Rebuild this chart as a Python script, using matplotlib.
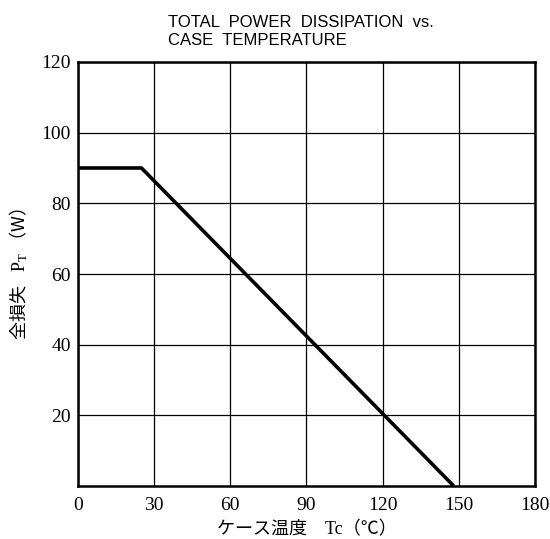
import matplotlib.pyplot as plt

# 全損失 - ケース温度 特性
tc = [0, 25, 148]        # ケース温度 Tc (℃)
pt = [90, 90, 0]         # 全損失 PT (W)
xticks = [0, 30, 60, 90, 120, 150, 180]
yticks = [20, 40, 60, 80, 100, 120]

serif_jp = ['Liberation Serif', 'Noto Sans CJK JP', 'DejaVu Sans']
plt.rcParams['mathtext.fontset'] = 'custom'
plt.rcParams['mathtext.rm'] = 'Noto Sans CJK JP'
plt.rcParams['mathtext.it'] = 'Liberation Serif'

fig = plt.figure(figsize=(5.5, 5.39), dpi=100)
ax = fig.add_axes([0.1418, 0.0983, 0.8309, 0.7867])

ax.plot(tc, pt, color='black', lw=2.6, solid_capstyle='butt')
ax.set_xlim(0, 180)
ax.set_ylim(0, 120)
ax.set_xticks(xticks)
ax.set_yticks(yticks)
ax.grid(True, color='black', lw=0.9)
ax.tick_params(length=0, labelsize=14)
ax.tick_params(axis='y', pad=5)
ax.tick_params(axis='x', pad=8)
for lab in ax.get_xticklabels() + ax.get_yticklabels():
    lab.set_family('Liberation Serif')
for s in ax.spines.values():
    s.set_linewidth(1.8)

fig.text(0.305, 0.942, 'TOTAL  POWER  DISSIPATION  vs.\nCASE  TEMPERATURE',
         ha='left', va='center', fontsize=12, family='Liberation Sans',
         linespacing=1.25)

ax.set_xlabel('ケース温度　Tc（℃）', fontsize=13, family=serif_jp, labelpad=5)
ax.set_ylabel(r'$\mathrm{全損失}\quad \mathit{P}_{\mathit{T}}\;\mathrm{（W）}$',
              fontsize=13, labelpad=8)

fig.savefig('out.png', dpi=100)
